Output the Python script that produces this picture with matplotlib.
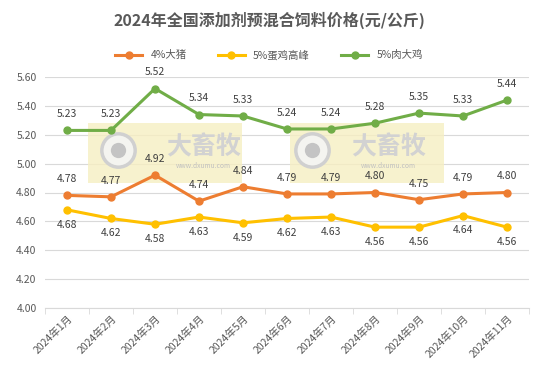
import matplotlib
matplotlib.use("Agg")
import matplotlib.pyplot as plt
from matplotlib.patches import Rectangle

plt.rcParams['font.family'] = ['Noto Sans CJK SC', 'DejaVu Sans']

months = ["2024年1月", "2024年2月", "2024年3月", "2024年4月", "2024年5月", "2024年6月",
          "2024年7月", "2024年8月", "2024年9月", "2024年10月", "2024年11月"]
pig = [4.78, 4.77, 4.92, 4.74, 4.84, 4.79, 4.79, 4.80, 4.75, 4.79, 4.80]
layer = [4.68, 4.62, 4.58, 4.63, 4.59, 4.62, 4.63, 4.56, 4.56, 4.64, 4.56]
broiler = [5.23, 5.23, 5.52, 5.34, 5.33, 5.24, 5.24, 5.28, 5.35, 5.33, 5.44]
series_names = ["4%大猪", "5%蛋鸡高峰", "5%肉大鸡"]
yticks = [4.00, 4.20, 4.40, 4.60, 4.80, 5.00, 5.20, 5.40, 5.60]

colors = ["#ED7D31", "#FFC000", "#70AD47"]

fig = plt.figure(figsize=(5.38, 3.72), dpi=100)
W, H = 538, 372
ax = fig.add_axes([45 / W, 1 - 308 / H, (529 - 45) / W, (308 - 77) / H])
ax.set_xlim(-0.5, len(months) - 0.5)
ax.set_ylim(4.0, 5.6)

x = list(range(len(months)))

# watermark (background decoration)
for rx, cx, tx in [(0.48, 1.16, 3.1), (5.07, 5.57, 7.3)]:
    ax.add_patch(Rectangle((rx, 4.866), 3.5, 0.414, facecolor="#F6EFC2", alpha=0.8,
                           edgecolor="none", zorder=1))
    ax.plot([cx], [5.094], marker="o", ms=24, mfc="#F4F4F0", mec="#D0D0D0", mew=2.5, zorder=1.5)
    ax.plot([cx], [5.094], marker="o", ms=11, mfc="#C4C4C4", mec="none", zorder=1.6)
    ax.text(tx, 5.11, "大畜牧", fontsize=18, color="#D2D2D2", ha="center", va="center",
            fontweight="bold", zorder=1.5)
    ax.text(tx, 4.985, "www.dxumu.com", fontsize=4.8, color="#C0C0C0", ha="center", va="center",
            zorder=1.5)

for vals, c, name in zip([pig, layer, broiler], colors, series_names):
    ax.plot(x, vals, color=c, lw=2.2, marker="o", ms=5, label=name, zorder=3)

for i in x:
    ax.annotate(f"{broiler[i]:.2f}", (i, broiler[i]), xytext=(0, 8), textcoords="offset points",
                ha="center", va="bottom", fontsize=7.5, color="#404040", zorder=4)
    ax.annotate(f"{pig[i]:.2f}", (i, pig[i]), xytext=(0, 8), textcoords="offset points",
                ha="center", va="bottom", fontsize=7.5, color="#404040", zorder=4)
    ax.annotate(f"{layer[i]:.2f}", (i, layer[i]), xytext=(0, -7), textcoords="offset points",
                ha="center", va="top", fontsize=7.5, color="#404040", zorder=4)

ax.set_yticks(yticks)
ax.set_yticklabels([f"{v:.2f}" for v in yticks], fontsize=7.5, color="#595959")
ax.yaxis.grid(True, color="#D9D9D9", lw=0.8)
ax.set_axisbelow(True)
ax.tick_params(axis="y", length=0, pad=6)
ax.set_xticks(x)
ax.set_xticklabels(months, rotation=45, ha="right", rotation_mode="anchor", fontsize=7.5, color="#595959")
ax.tick_params(axis="x", length=0, pad=4)
ax.set_xticks([i - 0.5 for i in range(len(months) + 1)], minor=True)
ax.tick_params(axis="x", which="minor", length=4, color="#D9D9D9")
for s in ["top", "right", "left"]:
    ax.spines[s].set_visible(False)
ax.spines["bottom"].set_color("#D9D9D9")

fig.text(0.5, 1 - 20 / H, "2024年全国添加剂预混合饲料价格(元/公斤)", ha="center", va="center",
         fontsize=11.5, fontweight="bold", color="#595959")
fig.legend(loc="center", bbox_to_anchor=(0.5, 1 - 55 / H), ncol=3, frameon=False, fontsize=7.5,
           handlelength=2.6, columnspacing=3, labelcolor="#595959")

fig.savefig("out.png", dpi=100)
